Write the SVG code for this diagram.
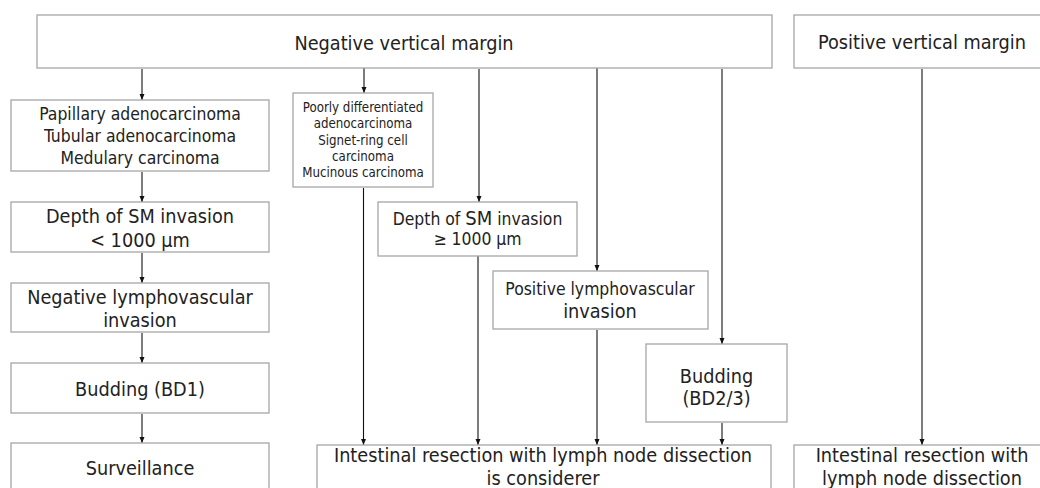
<svg xmlns="http://www.w3.org/2000/svg" width="1040" height="488" viewBox="0 0 1040 488">
<style>
.box{fill:#fff;stroke:#a6a6a6;stroke-width:1.3}
text{font-family:"DejaVu Sans Condensed","DejaVu Sans",sans-serif;font-stretch:condensed;fill:#222;text-anchor:middle}
.t20{font-size:19.7px}
.t17{font-size:17.4px}
.t13{font-size:13.2px}
.c line{stroke:#111;stroke-width:1.1;marker-end:url(#ah)}
</style>
<defs>
<marker id="ah" viewBox="0 0 6 6" refX="6" refY="3" markerWidth="6" markerHeight="6" markerUnits="userSpaceOnUse" orient="auto">
<path d="M0,0.5 L6,3 L0,5.5 Z" fill="#111"/>
</marker>
</defs>
<rect width="1040" height="488" fill="#fff"/>
<g class="c" id="connectors">
<line x1="142" y1="69" x2="142" y2="100"/>
<line x1="142" y1="172" x2="142" y2="202"/>
<line x1="142" y1="253" x2="142" y2="283"/>
<line x1="142" y1="333" x2="142" y2="363"/>
<line x1="142" y1="414" x2="142" y2="443"/>
<line x1="364" y1="68" x2="364" y2="93"/>
<line x1="363.5" y1="188" x2="363.5" y2="445"/>
<line x1="479" y1="69" x2="479" y2="202"/>
<line x1="478" y1="256" x2="478" y2="445"/>
<line x1="597" y1="68" x2="597" y2="271"/>
<line x1="597" y1="330" x2="597" y2="445"/>
<line x1="722" y1="69" x2="722" y2="344"/>
<line x1="722" y1="423" x2="722" y2="445"/>
<line x1="922" y1="69" x2="922" y2="445"/>
</g>
<g id="neg-margin"><rect class="box" x="37" y="15" width="735" height="53"/><text class="t20" x="404" y="50">Negative vertical margin</text></g>
<g id="pos-margin"><rect class="box" x="794" y="15" width="260" height="53"/><text class="t20" x="922" y="49">Positive vertical margin</text></g>
<g id="papillary"><rect class="box" x="11" y="100" width="258" height="71"/>
<text class="t17" x="140" y="119.5">Papillary adenocarcinoma</text>
<text class="t17" x="140" y="141.5">Tubular adenocarcinoma</text>
<text class="t17" x="140" y="163.5">Medulary carcinoma</text></g>
<g id="poorly"><rect class="box" x="293" y="93" width="140" height="94"/>
<text class="t13" x="363" y="112">Poorly differentiated</text>
<text class="t13" x="363" y="128.3">adenocarcinoma</text>
<text class="t13" x="363" y="144.6">Signet-ring cell</text>
<text class="t13" x="363" y="160.8">carcinoma</text>
<text class="t13" x="363" y="177">Mucinous carcinoma</text></g>
<g id="depth-lt"><rect class="box" x="11" y="202" width="258" height="50"/>
<text class="t20" x="140" y="223">Depth of SM invasion</text>
<text class="t20" x="140" y="247">&lt; 1000 µm</text></g>
<g id="depth-ge"><rect class="box" x="378" y="202" width="199" height="54"/>
<text class="t17" x="477.5" y="225">Depth of <tspan style="font-size:20px">SM</tspan> invasion</text>
<text class="t17" x="477.5" y="245">≥ 1000 µm</text></g>
<g id="neg-lv"><rect class="box" x="11" y="283" width="258" height="49"/>
<text class="t20" x="140" y="304">Negative lymphovascular</text>
<text class="t20" x="140" y="327">invasion</text></g>
<g id="pos-lv"><rect class="box" x="493" y="271" width="215" height="58"/>
<text class="t17" x="600" y="295">Positive lymphovascular</text>
<text class="t20" x="600" y="318">invasion</text></g>
<g id="bd1"><rect class="box" x="11" y="363" width="258" height="50"/>
<text class="t20" x="140" y="396">Budding (BD1)</text></g>
<g id="bd23"><rect class="box" x="646" y="344" width="141" height="78"/>
<text class="t20" x="716.5" y="383">Budding</text>
<text class="t20" x="716.5" y="405">(BD2/3)</text></g>
<g id="surveillance"><rect class="box" x="11" y="443" width="258" height="60"/>
<text class="t20" x="140" y="475">Surveillance</text></g>
<g id="resection-mid"><rect class="box" x="317" y="445" width="454" height="60"/>
<text class="t20" x="543" y="462">Intestinal resection with lymph node dissection</text>
<text class="t20" x="543" y="485">is considerer</text></g>
<g id="resection-right"><rect class="box" x="794" y="445" width="260" height="60"/>
<text class="t20" x="922" y="462">Intestinal resection with</text>
<text class="t20" x="922" y="485">lymph node dissection</text></g>
</svg>
